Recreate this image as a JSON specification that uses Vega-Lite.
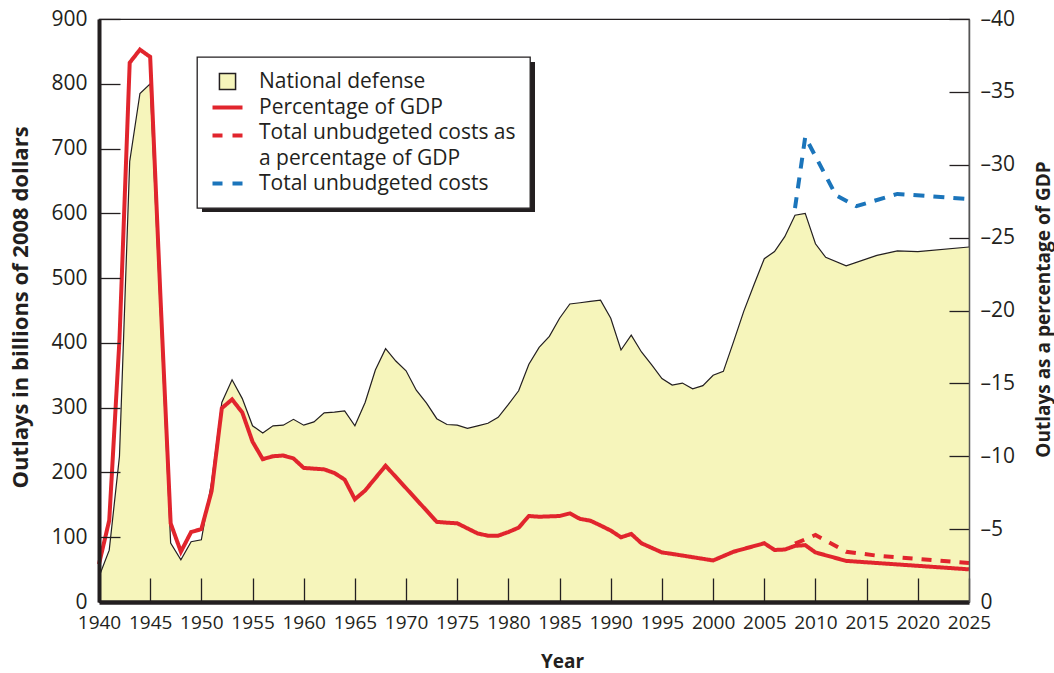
{
  "$schema": "https://vega.github.io/schema/vega-lite/v6.json",
  "width": 870,
  "height": 583,
  "autosize": {"type": "none"},
  "padding": {"left": 99, "top": 19, "right": 85, "bottom": 71},
  "background": "white",
  "config": {
    "view": {"stroke": "#231f20", "strokeWidth": 1.2},
    "font": "Open Sans",
    "axis": {
      "labelFont": "Open Sans", "labelColor": "#231f20",
      "titleFont": "Open Sans", "titleFontSize": 19, "titleFontWeight": "bold", "titleColor": "#231f20",
      "grid": false, "ticks": true, "tickColor": "#231f20", "tickWidth": 1.3, "domainColor": "#231f20"
    }
  },
  "datasets": {
    "defense": [
      {"year": 1940, "series": "National defense", "value": 39},
      {"year": 1941, "series": "National defense", "value": 80},
      {"year": 1942, "series": "National defense", "value": 225},
      {"year": 1943, "series": "National defense", "value": 680},
      {"year": 1944, "series": "National defense", "value": 785},
      {"year": 1945, "series": "National defense", "value": 800},
      {"year": 1946, "series": "National defense", "value": 445},
      {"year": 1947, "series": "National defense", "value": 91},
      {"year": 1948, "series": "National defense", "value": 65},
      {"year": 1949, "series": "National defense", "value": 93},
      {"year": 1950, "series": "National defense", "value": 96},
      {"year": 1951, "series": "National defense", "value": 185},
      {"year": 1952, "series": "National defense", "value": 308},
      {"year": 1953, "series": "National defense", "value": 343},
      {"year": 1954, "series": "National defense", "value": 314},
      {"year": 1955, "series": "National defense", "value": 272},
      {"year": 1956, "series": "National defense", "value": 261},
      {"year": 1957, "series": "National defense", "value": 272},
      {"year": 1958, "series": "National defense", "value": 273},
      {"year": 1959, "series": "National defense", "value": 282},
      {"year": 1960, "series": "National defense", "value": 273},
      {"year": 1961, "series": "National defense", "value": 278},
      {"year": 1962, "series": "National defense", "value": 292},
      {"year": 1963, "series": "National defense", "value": 293},
      {"year": 1964, "series": "National defense", "value": 295},
      {"year": 1965, "series": "National defense", "value": 272},
      {"year": 1966, "series": "National defense", "value": 308},
      {"year": 1967, "series": "National defense", "value": 358},
      {"year": 1968, "series": "National defense", "value": 391},
      {"year": 1969, "series": "National defense", "value": 372},
      {"year": 1970, "series": "National defense", "value": 357},
      {"year": 1971, "series": "National defense", "value": 327},
      {"year": 1972, "series": "National defense", "value": 307},
      {"year": 1973, "series": "National defense", "value": 283},
      {"year": 1974, "series": "National defense", "value": 274},
      {"year": 1975, "series": "National defense", "value": 273},
      {"year": 1976, "series": "National defense", "value": 268},
      {"year": 1977, "series": "National defense", "value": 272},
      {"year": 1978, "series": "National defense", "value": 276},
      {"year": 1979, "series": "National defense", "value": 285},
      {"year": 1980, "series": "National defense", "value": 305},
      {"year": 1981, "series": "National defense", "value": 326},
      {"year": 1982, "series": "National defense", "value": 367},
      {"year": 1983, "series": "National defense", "value": 393},
      {"year": 1984, "series": "National defense", "value": 410},
      {"year": 1985, "series": "National defense", "value": 438},
      {"year": 1986, "series": "National defense", "value": 460},
      {"year": 1987, "series": "National defense", "value": 462},
      {"year": 1988, "series": "National defense", "value": 464},
      {"year": 1989, "series": "National defense", "value": 466},
      {"year": 1990, "series": "National defense", "value": 438},
      {"year": 1991, "series": "National defense", "value": 389},
      {"year": 1992, "series": "National defense", "value": 412},
      {"year": 1993, "series": "National defense", "value": 386},
      {"year": 1994, "series": "National defense", "value": 366},
      {"year": 1995, "series": "National defense", "value": 345},
      {"year": 1996, "series": "National defense", "value": 335},
      {"year": 1997, "series": "National defense", "value": 338},
      {"year": 1998, "series": "National defense", "value": 329},
      {"year": 1999, "series": "National defense", "value": 334},
      {"year": 2000, "series": "National defense", "value": 350},
      {"year": 2001, "series": "National defense", "value": 356},
      {"year": 2002, "series": "National defense", "value": 402},
      {"year": 2003, "series": "National defense", "value": 449},
      {"year": 2004, "series": "National defense", "value": 490},
      {"year": 2005, "series": "National defense", "value": 530},
      {"year": 2006, "series": "National defense", "value": 541},
      {"year": 2007, "series": "National defense", "value": 564},
      {"year": 2008, "series": "National defense", "value": 597},
      {"year": 2009, "series": "National defense", "value": 600},
      {"year": 2010, "series": "National defense", "value": 553},
      {"year": 2011, "series": "National defense", "value": 532},
      {"year": 2013, "series": "National defense", "value": 519},
      {"year": 2016, "series": "National defense", "value": 535},
      {"year": 2018, "series": "National defense", "value": 542},
      {"year": 2020, "series": "National defense", "value": 541},
      {"year": 2025, "series": "National defense", "value": 548}
    ],
    "unbudgeted": [
      {"year": 2008, "series": "Total unbudgeted costs", "value": 608},
      {"year": 2009, "series": "Total unbudgeted costs", "value": 718},
      {"year": 2012, "series": "Total unbudgeted costs", "value": 628},
      {"year": 2014, "series": "Total unbudgeted costs", "value": 611},
      {"year": 2018, "series": "Total unbudgeted costs", "value": 630},
      {"year": 2025, "series": "Total unbudgeted costs", "value": 622}
    ],
    "pct": [
      {"year": 1940, "series": "Percentage of GDP", "value": 2.6},
      {"year": 1941, "series": "Percentage of GDP", "value": 5.6},
      {"year": 1942, "series": "Percentage of GDP", "value": 18.0},
      {"year": 1943, "series": "Percentage of GDP", "value": 37.0},
      {"year": 1944, "series": "Percentage of GDP", "value": 37.9},
      {"year": 1945, "series": "Percentage of GDP", "value": 37.4},
      {"year": 1946, "series": "Percentage of GDP", "value": 21.0},
      {"year": 1947, "series": "Percentage of GDP", "value": 5.4},
      {"year": 1948, "series": "Percentage of GDP", "value": 3.45},
      {"year": 1949, "series": "Percentage of GDP", "value": 4.8},
      {"year": 1950, "series": "Percentage of GDP", "value": 5.0},
      {"year": 1951, "series": "Percentage of GDP", "value": 7.6},
      {"year": 1952, "series": "Percentage of GDP", "value": 13.3},
      {"year": 1953, "series": "Percentage of GDP", "value": 13.9},
      {"year": 1954, "series": "Percentage of GDP", "value": 13.0},
      {"year": 1955, "series": "Percentage of GDP", "value": 11.0},
      {"year": 1956, "series": "Percentage of GDP", "value": 9.8},
      {"year": 1957, "series": "Percentage of GDP", "value": 10.0},
      {"year": 1958, "series": "Percentage of GDP", "value": 10.05},
      {"year": 1959, "series": "Percentage of GDP", "value": 9.85},
      {"year": 1960, "series": "Percentage of GDP", "value": 9.2},
      {"year": 1961, "series": "Percentage of GDP", "value": 9.15},
      {"year": 1962, "series": "Percentage of GDP", "value": 9.1},
      {"year": 1963, "series": "Percentage of GDP", "value": 8.85},
      {"year": 1964, "series": "Percentage of GDP", "value": 8.4},
      {"year": 1965, "series": "Percentage of GDP", "value": 7.05},
      {"year": 1966, "series": "Percentage of GDP", "value": 7.65},
      {"year": 1967, "series": "Percentage of GDP", "value": 8.5},
      {"year": 1968, "series": "Percentage of GDP", "value": 9.35},
      {"year": 1973, "series": "Percentage of GDP", "value": 5.5},
      {"year": 1974, "series": "Percentage of GDP", "value": 5.44},
      {"year": 1975, "series": "Percentage of GDP", "value": 5.4},
      {"year": 1977, "series": "Percentage of GDP", "value": 4.7},
      {"year": 1978, "series": "Percentage of GDP", "value": 4.55},
      {"year": 1979, "series": "Percentage of GDP", "value": 4.55},
      {"year": 1980, "series": "Percentage of GDP", "value": 4.8},
      {"year": 1981, "series": "Percentage of GDP", "value": 5.1},
      {"year": 1982, "series": "Percentage of GDP", "value": 5.9},
      {"year": 1983, "series": "Percentage of GDP", "value": 5.85},
      {"year": 1985, "series": "Percentage of GDP", "value": 5.9},
      {"year": 1986, "series": "Percentage of GDP", "value": 6.08},
      {"year": 1987, "series": "Percentage of GDP", "value": 5.7},
      {"year": 1988, "series": "Percentage of GDP", "value": 5.58},
      {"year": 1989, "series": "Percentage of GDP", "value": 5.25},
      {"year": 1990, "series": "Percentage of GDP", "value": 4.9},
      {"year": 1991, "series": "Percentage of GDP", "value": 4.44},
      {"year": 1992, "series": "Percentage of GDP", "value": 4.67},
      {"year": 1993, "series": "Percentage of GDP", "value": 4.03},
      {"year": 1995, "series": "Percentage of GDP", "value": 3.4},
      {"year": 1996, "series": "Percentage of GDP", "value": 3.3},
      {"year": 2000, "series": "Percentage of GDP", "value": 2.85},
      {"year": 2002, "series": "Percentage of GDP", "value": 3.45},
      {"year": 2005, "series": "Percentage of GDP", "value": 4.03},
      {"year": 2006, "series": "Percentage of GDP", "value": 3.57},
      {"year": 2007, "series": "Percentage of GDP", "value": 3.6},
      {"year": 2008, "series": "Percentage of GDP", "value": 3.85},
      {"year": 2009, "series": "Percentage of GDP", "value": 3.9},
      {"year": 2010, "series": "Percentage of GDP", "value": 3.4},
      {"year": 2013, "series": "Percentage of GDP", "value": 2.82},
      {"year": 2025, "series": "Percentage of GDP", "value": 2.24},
      {"year": 2008, "series": "Total unbudgeted costs as a percentage of GDP", "value": 4.0},
      {"year": 2010, "series": "Total unbudgeted costs as a percentage of GDP", "value": 4.6},
      {"year": 2013, "series": "Total unbudgeted costs as a percentage of GDP", "value": 3.45},
      {"year": 2016, "series": "Total unbudgeted costs as a percentage of GDP", "value": 3.18},
      {"year": 2025, "series": "Total unbudgeted costs as a percentage of GDP", "value": 2.68}
    ]
  },
  "layer": [
    {
      "layer": [
        {
          "data": {"name": "defense"},
          "mark": {"type": "area", "color": "#F6F5BB", "opacity": 1, "line": {"color": "#231f20", "strokeWidth": 1.2}},
          "encoding": {
            "x": {
              "field": "year", "type": "quantitative",
              "scale": {"domain": [1940, 2025], "nice": false, "zero": false},
              "axis": {
                "values": [1940, 1945, 1950, 1955, 1960, 1965, 1970, 1975, 1980, 1985, 1990, 1995, 2000, 2005, 2010, 2015, 2020, 2025],
                "format": "d", "title": "Year", "labelFontSize": 19,
                "tickSize": -24, "labelPadding": 35, "domainWidth": 4.5,
                "labelFlush": false, "labelOverlap": false,
                "titleX": 463, "titleY": 59, "titleAlign": "center", "titleBaseline": "middle",
                "encode": {"ticks": {"update": {"y2": {"value": -24}, "opacity": {"value": 1}}}},
                "zindex": 1
              }
            },
            "y": {
              "field": "value", "type": "quantitative",
              "scale": {"domain": [0, 900], "nice": false},
              "axis": {
                "values": [0, 100, 200, 300, 400, 500, 600, 700, 800, 900],
                "title": "Outlays in billions of 2008 dollars", "labelFontSize": 21, "titleFontSize": 22,
                "tickSize": -21, "labelPadding": 33, "domainWidth": 4,
                "labelFlush": false, "labelOverlap": false,
                "titleX": -79, "titleY": 288, "titleAlign": "center", "titleBaseline": "middle",
                "encode": {"ticks": {"update": {"x2": {"value": 21}, "opacity": {"value": 1}}}},
                "zindex": 1
              }
            }
          }
        },
        {
          "data": {"name": "unbudgeted"},
          "mark": {"type": "line", "strokeWidth": 4, "strokeDash": [11, 9]},
          "encoding": {
            "x": {"field": "year", "type": "quantitative", "scale": {"domain": [1940, 2025], "nice": false, "zero": false}},
            "y": {"field": "value", "type": "quantitative", "scale": {"domain": [0, 900], "nice": false}},
            "color": {
              "field": "series", "type": "nominal",
              "scale": {
                "domain": ["National defense", "Percentage of GDP", "Total unbudgeted costs as a percentage of GDP", "Total unbudgeted costs"],
                "range": ["#231f20", "#E1252D", "#E1252D", "#1B75BB"]
              }
            }
          }
        }
      ]
    },
    {
      "data": {"name": "pct"},
      "mark": {"type": "line", "strokeWidth": 4},
      "encoding": {
        "x": {"field": "year", "type": "quantitative", "scale": {"domain": [1940, 2025], "nice": false, "zero": false}},
        "y": {
          "field": "value", "type": "quantitative",
          "scale": {"domain": [0, 40], "nice": false},
          "axis": {
            "orient": "right",
            "values": [0, 5, 10, 15, 20, 25, 30, 35, 40],
            "labelExpr": "datum.value === 0 ? '0' : '\u2013' + datum.label",
            "title": "Outlays as a percentage of GDP", "titleAngle": 270, "labelFontSize": 21,
            "tickSize": -20, "labelPadding": 31, "domainWidth": 1.5, "domainColor": "#555555",
            "labelFlush": false, "labelOverlap": false,
            "titleX": 74, "titleY": 290, "titleAlign": "center", "titleBaseline": "middle",
            "encode": {"ticks": {"update": {"x2": {"value": -20}, "opacity": {"value": 1}}}},
            "zindex": 1
          }
        },
        "color": {
          "field": "series", "type": "nominal",
          "scale": {
            "domain": ["National defense", "Percentage of GDP", "Total unbudgeted costs as a percentage of GDP", "Total unbudgeted costs"],
            "range": ["#231f20", "#E1252D", "#E1252D", "#1B75BB"]
          },
          "legend": {
            "orient": "none", "legendX": 98, "legendY": 38, "zindex": 2,
            "title": null,
            "symbolType": "stroke", "symbolSize": 900, "symbolStrokeWidth": 4, "symbolOffset": 6,
            "labelFont": "Open Sans", "labelFontSize": 21, "labelColor": "#231f20",
            "labelOffset": 21, "labelLimit": 500,
            "rowPadding": 3, "padding": 14,
            "strokeColor": "#231f20", "fillColor": "white",
            "labelExpr": "datum.value === 'Total unbudgeted costs as a percentage of GDP' ? ['Total unbudgeted costs as', 'a percentage of GDP'] : datum.label",
            "encode": {
              "symbols": {
                "update": {
                  "shape": {"signal": "datum.value === 'National defense' ? 'square' : 'stroke'"},
                  "size": {"signal": "datum.value === 'National defense' ? 260 : 900"},
                  "fill": {"signal": "datum.value === 'National defense' ? '#F6F5BB' : 'transparent'"},
                  "stroke": {"signal": "datum.value === 'National defense' ? '#231f20' : (datum.value === 'Total unbudgeted costs' ? '#1B75BB' : '#E1252D')"},
                  "strokeWidth": {"signal": "datum.value === 'National defense' ? 1.5 : 4"},
                  "strokeDash": {"signal": "(datum.value === 'Total unbudgeted costs' || datum.value === 'Total unbudgeted costs as a percentage of GDP') ? [10, 10] : [1, 0]"},
                  "opacity": {"value": 1}
                }
              },
              "labels": {
                "update": {
                  "baseline": {"signal": "datum.value === 'Total unbudgeted costs as a percentage of GDP' ? 'top' : 'middle'"},
                  "dy": {"signal": "datum.value === 'Total unbudgeted costs as a percentage of GDP' ? -14 : 0"},
                  "lineHeight": {"value": 26}
                }
              },
              "legend": {"update": {"strokeWidth": {"value": 1.3}}}
            }
          }
        },
        "opacity": {
          "field": "series", "type": "ordinal",
          "scale": {
            "domain": ["Total unbudgeted costs", "National defense", "Percentage of GDP", "Total unbudgeted costs as a percentage of GDP"],
            "range": [1, 1, 1, 1]
          },
          "legend": {
            "orient": "none", "legendX": 103, "legendY": 43, "zindex": 1,
            "title": null, "padding": 0, "rowPadding": 0,
            "symbolType": "square", "symbolSize": 4, "labelOffset": 0,
            "labelExpr": "''",
            "encode": {
              "symbols": {
                "update": {
                  "shape": {"signal": "datum.value === 'Total unbudgeted costs' ? 'M-1,-0.4505L1,-0.4505L1,0.4505L-1,0.4505Z' : 'square'"},
                  "size": {"signal": "datum.value === 'Total unbudgeted costs' ? 110889 : 0"},
                  "x": {"value": 166.5},
                  "y": {"value": 75},
                  "fill": {"value": "#231f20"},
                  "stroke": {"value": "transparent"},
                  "strokeWidth": {"value": 0},
                  "opacity": {"signal": "datum.value === 'Total unbudgeted costs' ? 1 : 0"}
                }
              }
            }
          }
        },
        "strokeDash": {
          "field": "series", "type": "nominal",
          "scale": {
            "domain": ["Percentage of GDP", "Total unbudgeted costs as a percentage of GDP"],
            "range": [[1, 0], [10, 9]]
          },
          "legend": null
        }
      }
    }
  ],
  "resolve": {"scale": {"y": "independent"}}
}
